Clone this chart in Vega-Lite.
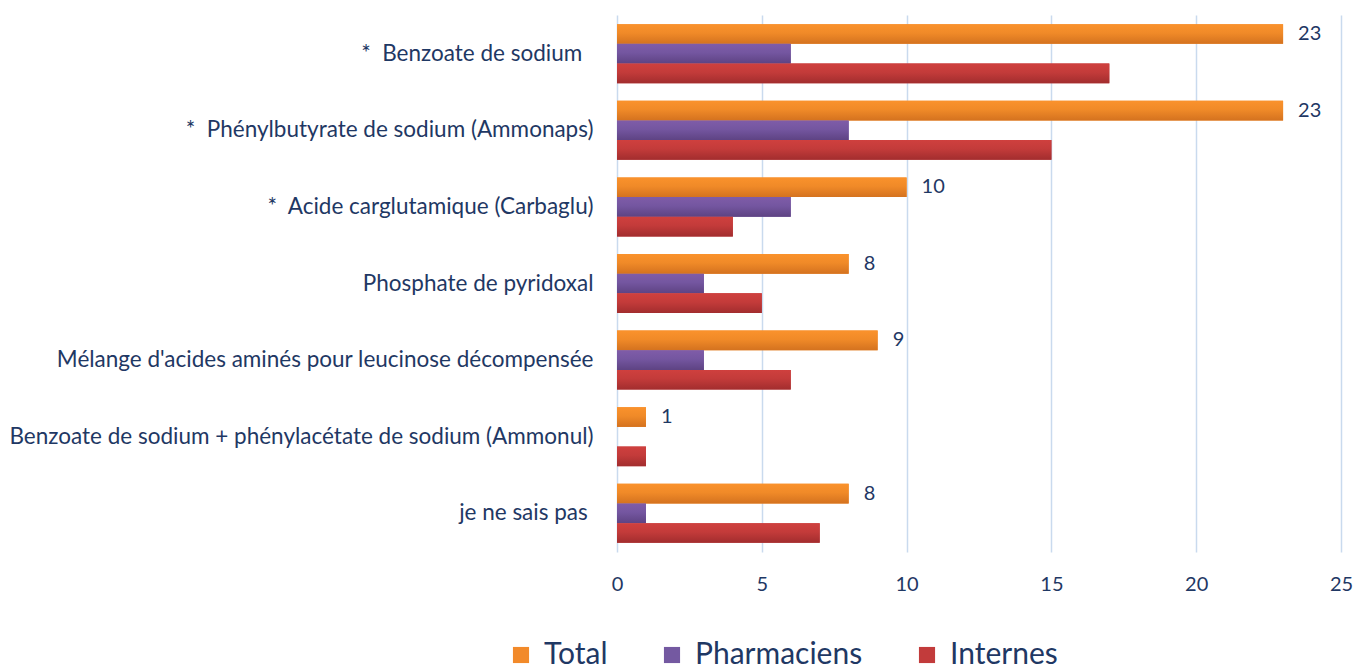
{
  "$schema": "https://vega.github.io/schema/vega-lite/v6.json",
  "width": 724,
  "height": 537,
  "autosize": {"type": "none"},
  "padding": {"left": 617, "top": 15, "right": 15, "bottom": 114},
  "background": "white",
  "config": {"view": {"stroke": null}, "font": "Lato"},
  "data": {"values": [
    {"cat": "*\u00a0\u00a0Benzoate de sodium\u2002\u200b", "serie": "Total", "v": 23},
    {"cat": "*\u00a0\u00a0Benzoate de sodium\u2002\u200b", "serie": "Pharmaciens", "v": 6},
    {"cat": "*\u00a0\u00a0Benzoate de sodium\u2002\u200b", "serie": "Internes", "v": 17},
    {"cat": "*\u00a0\u00a0Phénylbutyrate de sodium (Ammonaps)", "serie": "Total", "v": 23},
    {"cat": "*\u00a0\u00a0Phénylbutyrate de sodium (Ammonaps)", "serie": "Pharmaciens", "v": 8},
    {"cat": "*\u00a0\u00a0Phénylbutyrate de sodium (Ammonaps)", "serie": "Internes", "v": 15},
    {"cat": "*\u00a0\u00a0Acide carglutamique (Carbaglu)", "serie": "Total", "v": 10},
    {"cat": "*\u00a0\u00a0Acide carglutamique (Carbaglu)", "serie": "Pharmaciens", "v": 6},
    {"cat": "*\u00a0\u00a0Acide carglutamique (Carbaglu)", "serie": "Internes", "v": 4},
    {"cat": "Phosphate de pyridoxal", "serie": "Total", "v": 8},
    {"cat": "Phosphate de pyridoxal", "serie": "Pharmaciens", "v": 3},
    {"cat": "Phosphate de pyridoxal", "serie": "Internes", "v": 5},
    {"cat": "Mélange d'acides aminés pour leucinose décompensée", "serie": "Total", "v": 9},
    {"cat": "Mélange d'acides aminés pour leucinose décompensée", "serie": "Pharmaciens", "v": 3},
    {"cat": "Mélange d'acides aminés pour leucinose décompensée", "serie": "Internes", "v": 6},
    {"cat": "Benzoate de sodium + phénylacétate de sodium (Ammonul)", "serie": "Total", "v": 1},
    {"cat": "Benzoate de sodium + phénylacétate de sodium (Ammonul)", "serie": "Pharmaciens", "v": 0},
    {"cat": "Benzoate de sodium + phénylacétate de sodium (Ammonul)", "serie": "Internes", "v": 1},
    {"cat": "je ne sais pas\u00a0\u200b", "serie": "Total", "v": 8},
    {"cat": "je ne sais pas\u00a0\u200b", "serie": "Pharmaciens", "v": 1},
    {"cat": "je ne sais pas\u00a0\u200b", "serie": "Internes", "v": 7}
  ]},
  "encoding": {
    "y": {
      "field": "cat", "type": "nominal", "sort": null,
      "scale": {"paddingInner": 0.23, "paddingOuter": 0.12},
      "axis": {"title": null, "domain": false, "ticks": false, "labelPadding": 24, "labelLimit": 700, "labelFontSize": 22.5, "labelColor": "#1F3864", "labelFont": "Lato"}
    },
    "yOffset": {"field": "serie", "type": "nominal", "sort": ["Total", "Pharmaciens", "Internes"], "scale": {"paddingInner": 0, "paddingOuter": 0}},
    "x": {
      "field": "v", "type": "quantitative",
      "scale": {"domain": [0, 25]},
      "axis": {"title": null, "values": [0, 5, 10, 15, 20, 25], "domain": false, "ticks": false, "grid": true, "gridColor": "#C9DAEE", "gridWidth": 1.5, "labelFlush": false, "labelPadding": 22, "labelFontSize": 20, "labelColor": "#1F3864", "labelFont": "Lato"}
    }
  },
  "layer": [
    {
      "mark": {"type": "bar"},
      "encoding": {
        "color": {
          "field": "serie", "type": "nominal",
          "scale": {"domain": ["Total", "Pharmaciens", "Internes"], "range": ["#F28A2A", "#7459A1", "#C23B3B"]},
          "legend": {"title": null, "orient": "none", "direction": "horizontal", "legendX": -111, "legendY": 625, "symbolType": "square", "symbolSize": 260, "symbolStrokeWidth": 0, "labelFontSize": 30, "labelLimit": 400, "labelColor": "#1F3864", "labelFont": "Lato", "columnPadding": 49, "labelOffset": 8}
        }
      }
    },
    {
      "transform": [{"filter": "datum.serie === 'Total'"}],
      "mark": {"type": "bar", "fill": {"gradient": "linear", "x1": 0, "y1": 0, "x2": 0, "y2": 1, "stops": [{"offset": 0, "color": "#FA922C"}, {"offset": 0.45, "color": "#F08A28"}, {"offset": 1, "color": "#D4721F"}]}}
    },
    {
      "transform": [{"filter": "datum.serie === 'Pharmaciens'"}],
      "mark": {"type": "bar", "fill": {"gradient": "linear", "x1": 0, "y1": 0, "x2": 0, "y2": 1, "stops": [{"offset": 0, "color": "#7F5CA8"}, {"offset": 0.45, "color": "#7456A0"}, {"offset": 1, "color": "#5E4383"}]}}
    },
    {
      "transform": [{"filter": "datum.serie === 'Internes'"}],
      "mark": {"type": "bar", "fill": {"gradient": "linear", "x1": 0, "y1": 0, "x2": 0, "y2": 1, "stops": [{"offset": 0, "color": "#CF403E"}, {"offset": 0.45, "color": "#C33B3A"}, {"offset": 1, "color": "#A22D2E"}]}}
    },
    {
      "transform": [{"filter": "datum.serie === 'Total'"}],
      "mark": {"type": "text", "align": "left", "dx": 15, "fontSize": 20, "color": "#1F3864", "font": "Lato"},
      "encoding": {"text": {"field": "v", "type": "quantitative"}}
    }
  ]
}
